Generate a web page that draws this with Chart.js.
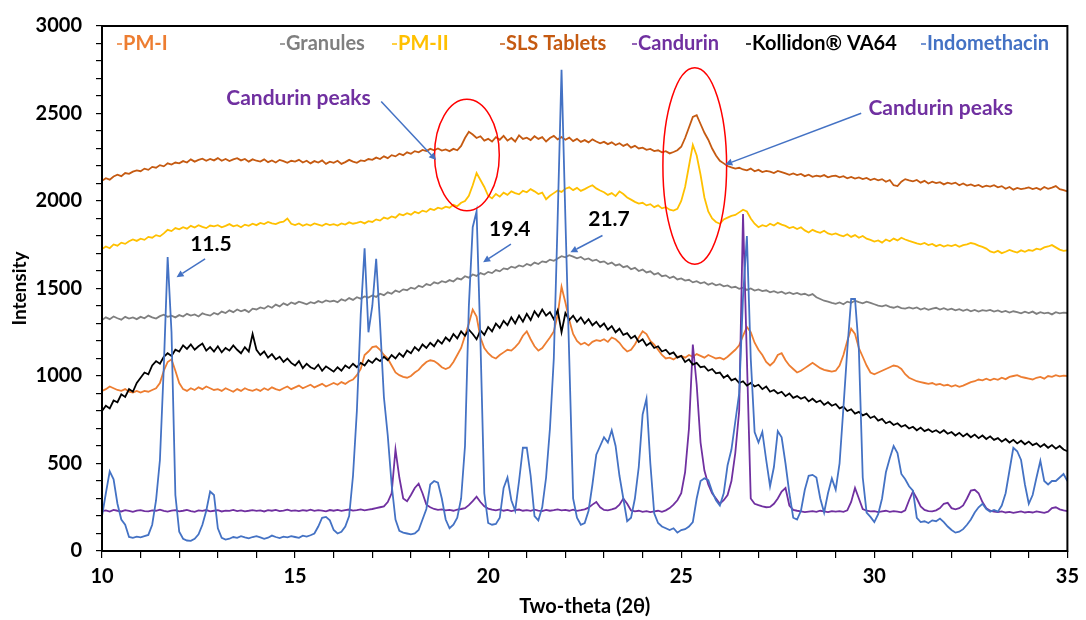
<!DOCTYPE html>
<html>
<head>
<meta charset="utf-8">
<script src="https://cdn.jsdelivr.net/npm/chart.js@4.4.1/dist/chart.umd.min.js"></script>
<style>
  html, body { margin: 0; padding: 0; background: #ffffff; }
  canvas { display: block; }
</style>
</head>
<body>
<canvas id="c" width="1086" height="620"></canvas>
<script>
// ---- Data ----
const twoTheta = [
  10.0,10.1,10.2,10.3,10.4,10.5,10.6,10.7,10.8,10.9,
  11.0,11.1,11.2,11.3,11.4,11.5,11.6,11.7,11.8,11.9,
  12.0,12.1,12.2,12.3,12.4,12.5,12.6,12.7,12.8,12.9,
  13.0,13.1,13.2,13.3,13.4,13.5,13.6,13.7,13.8,13.9,
  14.0,14.1,14.2,14.3,14.4,14.5,14.6,14.7,14.8,14.9,
  15.0,15.1,15.2,15.3,15.4,15.5,15.6,15.7,15.8,15.9,
  16.0,16.1,16.2,16.3,16.4,16.5,16.6,16.7,16.8,16.9,
  17.0,17.1,17.2,17.3,17.4,17.5,17.6,17.7,17.8,17.9,
  18.0,18.1,18.2,18.3,18.4,18.5,18.6,18.7,18.8,18.9,
  19.0,19.1,19.2,19.3,19.4,19.5,19.6,19.7,19.8,19.9,
  20.0,20.1,20.2,20.3,20.4,20.5,20.6,20.7,20.8,20.9,
  21.0,21.1,21.2,21.3,21.4,21.5,21.6,21.7,21.8,21.9,
  22.0,22.1,22.2,22.3,22.4,22.5,22.6,22.7,22.8,22.9,
  23.0,23.1,23.2,23.3,23.4,23.5,23.6,23.7,23.8,23.9,
  24.0,24.1,24.2,24.3,24.4,24.5,24.6,24.7,24.8,24.9,
  25.0,25.1,25.2,25.3,25.4,25.5,25.6,25.7,25.8,25.9,
  26.0,26.1,26.2,26.3,26.4,26.5,26.6,26.7,26.8,26.9,
  27.0,27.1,27.2,27.3,27.4,27.5,27.6,27.7,27.8,27.9,
  28.0,28.1,28.2,28.3,28.4,28.5,28.6,28.7,28.8,28.9,
  29.0,29.1,29.2,29.3,29.4,29.5,29.6,29.7,29.8,29.9,
  30.0,30.1,30.2,30.3,30.4,30.5,30.6,30.7,30.8,30.9,
  31.0,31.1,31.2,31.3,31.4,31.5,31.6,31.7,31.8,31.9,
  32.0,32.1,32.2,32.3,32.4,32.5,32.6,32.7,32.8,32.9,
  33.0,33.1,33.2,33.3,33.4,33.5,33.6,33.7,33.8,33.9,
  34.0,34.1,34.2,34.3,34.4,34.5,34.6,34.7,34.8,34.9,
  35.0
];

const pmI = [
  915,925,940,930,920,915,925,910,905,915,
  905,915,910,920,930,960,1030,1080,1095,1030,
  960,925,915,930,920,935,925,940,930,920,
  925,915,930,920,910,925,915,930,920,915,
  925,915,930,920,935,925,918,930,940,925,
  935,945,930,940,950,935,945,955,940,950,
  960,950,965,955,970,980,1005,1040,1120,1140,
  1165,1170,1150,1120,1100,1060,1020,1005,995,990,
  1000,1020,1035,1060,1080,1090,1085,1070,1050,1040,
  1050,1080,1120,1160,1230,1300,1380,1340,1220,1160,
  1130,1110,1100,1120,1135,1150,1145,1165,1190,1230,
  1255,1210,1170,1145,1160,1190,1220,1255,1350,1510,
  1420,1320,1240,1200,1180,1190,1175,1195,1205,1200,
  1210,1195,1220,1210,1190,1160,1140,1150,1180,1220,
  1255,1240,1200,1180,1150,1120,1100,1105,1095,1110,
  1115,1105,1120,1110,1125,1115,1105,1120,1110,1100,
  1105,1095,1110,1130,1150,1175,1230,1280,1250,1190,
  1150,1120,1080,1060,1080,1120,1130,1090,1060,1040,
  1020,1030,1045,1060,1075,1060,1045,1035,1030,1025,
  1030,1060,1120,1200,1270,1240,1160,1110,1060,1020,
  1010,1020,1030,1040,1050,1060,1055,1040,1010,990,
  980,970,965,960,955,960,950,955,945,950,
  940,948,938,945,955,965,970,980,975,985,
  975,985,978,990,982,995,1000,1005,995,990,
  985,980,990,995,985,1000,995,1005,998,1002,
  1000
];

const granules = [
  1320,1335,1325,1340,1330,1322,1338,1328,1335,1325,
  1338,1330,1345,1335,1328,1342,1350,1338,1345,1335,
  1348,1340,1355,1345,1352,1340,1358,1350,1345,1360,
  1352,1368,1360,1375,1365,1380,1370,1378,1365,1385,
  1380,1392,1385,1400,1390,1408,1398,1415,1405,1420,
  1412,1425,1418,1410,1422,1415,1428,1420,1432,1425,
  1430,1422,1438,1430,1445,1435,1450,1442,1455,1448,
  1460,1452,1470,1462,1478,1470,1488,1480,1495,1490,
  1505,1498,1515,1508,1525,1518,1535,1528,1542,1535,
  1548,1540,1558,1552,1570,1562,1580,1572,1588,1580,
  1595,1588,1605,1598,1615,1610,1625,1618,1632,1625,
  1640,1632,1648,1640,1655,1650,1665,1658,1672,1685,
  1678,1690,1682,1672,1680,1665,1672,1658,1665,1650,
  1655,1640,1648,1632,1638,1622,1628,1610,1618,1600,
  1608,1592,1598,1580,1588,1570,1575,1560,1568,1552,
  1558,1545,1550,1535,1542,1530,1536,1522,1530,1518,
  1525,1512,1518,1505,1510,1498,1505,1492,1500,1488,
  1495,1485,1490,1478,1485,1475,1482,1470,1478,1468,
  1475,1465,1470,1460,1468,1450,1440,1430,1425,1418,
  1412,1420,1410,1425,1418,1430,1422,1415,1425,1418,
  1410,1402,1398,1405,1395,1390,1398,1388,1385,1392,
  1385,1392,1380,1388,1378,1385,1390,1380,1388,1378,
  1385,1375,1382,1372,1380,1370,1378,1368,1376,1372,
  1378,1368,1375,1365,1372,1362,1370,1365,1358,1368,
  1360,1368,1355,1365,1358,1362,1352,1365,1358,1362,
  1360
];

const pmII = [
  1725,1740,1730,1752,1745,1762,1755,1770,1780,1772,
  1785,1778,1795,1790,1805,1798,1815,1835,1828,1845,
  1838,1850,1842,1858,1848,1862,1852,1845,1860,1855,
  1862,1850,1858,1868,1855,1862,1850,1865,1858,1870,
  1862,1875,1868,1880,1872,1868,1878,1882,1900,1870,
  1862,1872,1858,1868,1860,1872,1865,1858,1870,1862,
  1868,1860,1872,1865,1878,1870,1875,1882,1872,1885,
  1880,1895,1888,1905,1898,1912,1905,1925,1918,1930,
  1922,1938,1930,1945,1938,1955,1948,1962,1955,1968,
  1962,1978,1970,1990,2000,2030,2090,2160,2120,2080,
  2030,2015,2040,2025,2048,2035,2055,2045,2038,2058,
  2050,2068,2055,2040,2048,2010,2030,2045,2060,2052,
  2070,2078,2062,2075,2058,2068,2080,2090,2072,2060,
  2050,2035,2045,2028,2055,2040,2020,2008,1995,1985,
  1990,1975,1982,1965,1975,1958,1965,1950,1945,1955,
  2000,2080,2200,2320,2260,2150,2020,1940,1900,1880,
  1870,1895,1905,1915,1920,1935,1950,1940,1900,1870,
  1850,1862,1855,1870,1860,1875,1865,1858,1845,1852,
  1840,1850,1832,1820,1835,1825,1818,1830,1815,1808,
  1815,1805,1798,1810,1795,1805,1790,1800,1785,1778,
  1768,1775,1762,1780,1770,1785,1775,1790,1780,1772,
  1765,1758,1752,1760,1748,1755,1742,1750,1740,1748,
  1742,1750,1738,1748,1752,1760,1755,1745,1738,1728,
  1712,1705,1715,1702,1710,1720,1712,1705,1718,1710,
  1720,1715,1728,1722,1735,1740,1748,1735,1722,1715,
  1718
];

const slsTablets = [
  2115,2130,2122,2140,2150,2142,2160,2155,2168,2175,
  2170,2185,2178,2195,2190,2205,2198,2215,2208,2220,
  2215,2228,2220,2238,2225,2235,2242,2230,2240,2232,
  2245,2230,2240,2228,2238,2245,2232,2240,2225,2238,
  2230,2225,2238,2222,2232,2220,2235,2228,2218,2230,
  2225,2235,2220,2230,2215,2228,2220,2232,2212,2225,
  2218,2230,2212,2222,2235,2225,2218,2232,2228,2240,
  2235,2248,2240,2255,2245,2262,2255,2270,2262,2278,
  2270,2285,2278,2292,2285,2298,2290,2300,2288,2295,
  2285,2298,2290,2315,2360,2395,2380,2360,2370,2345,
  2355,2340,2365,2350,2372,2345,2360,2340,2375,2355,
  2362,2348,2370,2355,2365,2340,2360,2372,2352,2365,
  2350,2362,2342,2355,2338,2348,2335,2352,2340,2330,
  2338,2325,2335,2320,2330,2315,2325,2305,2315,2300,
  2305,2292,2298,2285,2290,2278,2285,2272,2280,2290,
  2310,2360,2420,2480,2490,2440,2390,2350,2300,2260,
  2230,2215,2200,2192,2185,2190,2180,2175,2185,2170,
  2178,2165,2172,2168,2160,2172,2165,2158,2150,2158,
  2148,2155,2142,2150,2138,2145,2140,2148,2135,2142,
  2145,2135,2142,2130,2138,2128,2135,2125,2132,2120,
  2128,2118,2125,2110,2120,2090,2085,2110,2125,2118,
  2112,2120,2105,2115,2100,2110,2102,2108,2095,2105,
  2098,2105,2090,2100,2088,2095,2085,2092,2080,2088,
  2082,2090,2078,2085,2070,2080,2065,2075,2068,2072,
  2078,2068,2075,2065,2080,2070,2076,2085,2068,2062,
  2055
];

const candurin = [
  228,232,225,235,230,226,233,229,224,231,
  234,228,226,232,230,236,229,225,231,233,
  227,230,235,228,224,232,229,234,227,230,
  233,226,231,229,235,228,232,227,230,234,
  229,232,226,233,230,235,228,231,236,229,
  232,228,234,230,236,229,233,231,227,234,
  230,235,229,233,237,231,234,238,232,236,
  240,245,250,255,280,330,580,420,300,285,
  320,360,385,330,265,250,240,235,238,232,
  235,230,236,240,245,262,285,310,280,255,
  242,236,232,238,230,235,228,233,237,230,
  234,229,236,231,228,235,230,233,238,232,
  235,230,236,229,233,238,248,265,280,250,
  235,232,238,245,265,300,270,232,226,230,
  224,228,222,226,230,224,232,245,265,290,
  330,450,700,1180,950,620,460,380,330,300,
  270,290,320,400,560,800,1925,1100,300,270,
  262,255,250,252,270,300,340,360,260,235,
  230,226,222,225,228,224,230,226,222,228,
  225,228,224,232,280,360,300,240,230,226,
  228,222,226,230,224,228,225,221,232,290,
  340,300,255,235,228,226,232,245,270,275,
  245,238,245,260,300,345,350,330,280,245,
  230,225,222,226,220,224,218,222,226,220,
  224,220,226,222,218,225,245,250,238,232,
  228
];

const kollidonVA64 = [
  800,830,815,860,850,895,880,925,910,960,
  990,1020,1010,1060,1085,1070,1110,1130,1115,1150,
  1140,1175,1155,1180,1150,1170,1185,1145,1165,1140,
  1170,1135,1160,1145,1175,1150,1130,1165,1140,1240,
  1150,1120,1140,1105,1125,1095,1110,1080,1100,1075,
  1060,1085,1045,1070,1050,1040,1065,1030,1055,1040,
  1025,1050,1030,1060,1045,1070,1050,1075,1060,1090,
  1075,1100,1085,1110,1090,1120,1100,1130,1110,1145,
  1130,1165,1145,1180,1160,1190,1170,1205,1185,1220,
  1200,1240,1215,1255,1230,1265,1240,1210,1260,1235,
  1280,1255,1300,1275,1315,1290,1335,1300,1345,1310,
  1355,1320,1370,1340,1380,1345,1365,1325,1375,1250,
  1360,1320,1345,1310,1335,1300,1325,1290,1310,1280,
  1300,1265,1285,1250,1270,1235,1245,1215,1230,1195,
  1210,1175,1190,1160,1170,1140,1150,1125,1135,1105,
  1115,1080,1095,1065,1075,1050,1055,1030,1040,1015,
  1020,990,1005,975,985,960,970,945,960,940,
  950,925,940,910,920,900,910,885,900,875,
  885,870,880,855,870,850,860,835,850,830,
  840,815,825,800,810,785,795,775,785,760,
  770,745,755,730,740,720,730,710,720,700,
  710,690,705,685,695,680,690,675,690,670,
  680,660,675,655,670,650,665,645,660,640,
  655,635,645,625,640,620,635,615,630,610,
  625,605,615,595,610,590,605,585,600,580,
  570
];

const indomethacin = [
  200,330,455,410,270,180,150,80,75,82,
  78,85,92,150,290,520,1050,1680,1250,320,
  110,70,60,58,70,95,150,230,340,320,
  130,75,65,70,80,75,85,78,72,80,
  85,78,70,76,88,80,74,82,78,85,
  80,75,88,82,90,100,140,190,195,175,
  120,100,110,140,200,430,800,1350,1730,1250,
  1400,1670,1300,880,660,380,180,115,105,100,
  95,100,120,180,240,380,400,390,300,180,
  130,150,190,300,600,1400,1850,1940,1200,330,
  160,150,155,190,360,420,290,230,400,590,
  590,430,200,175,250,420,700,1100,1900,2750,
  1900,1100,300,190,150,160,230,380,550,600,
  650,620,690,600,430,300,170,190,300,480,
  780,870,500,215,160,140,130,120,130,105,
  120,125,140,165,300,400,415,405,340,290,
  260,330,490,580,740,900,1450,1800,1100,680,
  620,680,520,370,480,685,650,500,330,190,
  180,230,350,430,435,420,300,220,330,415,
  350,500,820,1150,1440,1440,1150,420,220,195,
  165,210,300,450,530,600,560,440,410,370,
  345,190,165,170,160,175,170,185,165,140,
  120,105,110,125,150,180,220,250,270,240,
  225,235,225,260,330,460,590,570,520,380,
  270,320,420,515,400,380,400,400,420,440,
  400
];

const seriesNames = ['PM-I', 'Granules', 'PM-II', 'SLS Tablets', 'Candurin', 'Kollidon® VA64', 'Indomethacin'];
const seriesValues = [pmI, granules, pmII, slsTablets, candurin, kollidonVA64, indomethacin];
const seriesColors = ['#ED7D31', '#7F7F7F', '#FFC000', '#C55A11', '#7030A0', '#000000', '#4472C4'];

const xTickLabels = [10, 15, 20, 25, 30, 35];
const yTickLabels = [0, 500, 1000, 1500, 2000, 2500, 3000];

// ---- Annotations (data coordinates) ----
const annotTexts = [
  { t: 'Candurin peaks', x: 15.09, y: 2586, color: '#7030A0' },
  { t: 'Candurin peaks', x: 31.72, y: 2529, color: '#7030A0' },
  { t: '11.5', x: 12.82, y: 1754, color: '#000000' },
  { t: '19.4', x: 20.56, y: 1839, color: '#000000' },
  { t: '21.7', x: 23.13, y: 1896, color: '#000000' }
];
const annotArrows = [
  [17.23, 2569, 18.65, 2234],
  [29.66, 2501, 26.14, 2208],
  [12.67, 1669, 11.93, 1565],
  [20.59, 1754, 19.87, 1650],
  [22.96, 1803, 22.13, 1707]
];
const annotEllipses = [
  { x: 19.45, y: 2263, rx: 0.838, ry: 318 },
  { x: 25.35, y: 2200, rx: 0.825, ry: 561 }
];

const FONT = "Lato, 'Liberation Sans', sans-serif";

const overlay = {
  id: 'overlay',
  afterDatasetsDraw(chart) {
    const { ctx, chartArea: a, scales: { x, y } } = chart;
    ctx.save();
    // frame
    ctx.strokeStyle = '#000';
    ctx.lineWidth = 2;
    ctx.strokeRect(a.left, a.top, a.right - a.left, a.bottom - a.top);

    // ellipses
    ctx.strokeStyle = '#FF0000';
    ctx.lineWidth = 1.5;
    annotEllipses.forEach(e => {
      const cx = x.getPixelForValue(e.x), cy = y.getPixelForValue(e.y);
      const rx = x.getPixelForValue(e.x + e.rx) - cx;
      const ry = cy - y.getPixelForValue(e.y + e.ry);
      ctx.beginPath();
      ctx.ellipse(cx, cy, rx, ry, 0, 0, Math.PI * 2);
      ctx.stroke();
    });

    // arrows
    ctx.strokeStyle = '#4472C4';
    ctx.fillStyle = '#4472C4';
    ctx.lineWidth = 1.5;
    annotArrows.forEach(ar => {
      const x1 = x.getPixelForValue(ar[0]), y1 = y.getPixelForValue(ar[1]);
      const x2 = x.getPixelForValue(ar[2]), y2 = y.getPixelForValue(ar[3]);
      const ang = Math.atan2(y2 - y1, x2 - x1);
      const hl = 7, hw = 3.5;
      const bx = x2 - hl * Math.cos(ang), by = y2 - hl * Math.sin(ang);
      ctx.beginPath();
      ctx.moveTo(x1, y1);
      ctx.lineTo(bx, by);
      ctx.stroke();
      ctx.beginPath();
      ctx.moveTo(x2, y2);
      ctx.lineTo(bx + hw * Math.sin(ang), by - hw * Math.cos(ang));
      ctx.lineTo(bx - hw * Math.sin(ang), by + hw * Math.cos(ang));
      ctx.closePath();
      ctx.fill();
    });

    // annotation texts
    ctx.font = 'bold 21px ' + FONT;
    ctx.textAlign = 'center';
    ctx.textBaseline = 'middle';
    annotTexts.forEach(tx => {
      ctx.fillStyle = tx.color;
      ctx.fillText(tx.t, x.getPixelForValue(tx.x), y.getPixelForValue(tx.y));
    });

    // legend inside plot
    const legendX = [117, 280, 392, 500, 632, 746, 921];
    const ly = 44;
    ctx.font = 'bold 20px ' + FONT;
    ctx.textAlign = 'left';
    chart.data.datasets.forEach((ds, i) => {
      const lx = legendX[i];
      ctx.strokeStyle = ds.borderColor;
      ctx.lineWidth = 1.5;
      ctx.beginPath();
      ctx.moveTo(lx, ly);
      ctx.lineTo(lx + 5, ly);
      ctx.stroke();
      ctx.fillStyle = ds.borderColor;
      ctx.fillText(ds.label, lx + 6, ly);
    });
    ctx.restore();
  }
};

const datasets = seriesNames.map((name, i) => ({
  label: name,
  data: seriesValues[i],
  borderColor: seriesColors[i],
  backgroundColor: seriesColors[i],
  borderWidth: 1.8,
  pointRadius: 0,
  tension: 0,
  fill: false,
  order: seriesNames.length - i
}));

new Chart(document.getElementById('c'), {
  type: 'line',
  data: { labels: twoTheta, datasets },
  options: {
    responsive: false,
    animation: false,
    devicePixelRatio: 1,
    layout: { padding: { top: 22, right: 14, left: 0, bottom: 0 } },
    plugins: { legend: { display: false }, tooltip: { enabled: false } },
    scales: {
      x: {
        type: 'linear',
        min: 10, max: 35,
        afterFit(scale) { scale.height = 69; },
        ticks: {
          stepSize: 1,
          autoSkip: false,
          maxRotation: 0,
          padding: 7,
          color: '#000',
          font: { family: FONT, size: 20, weight: 'bold' },
          callback: v => (xTickLabels.includes(v) ? String(v) : '')
        },
        grid: { drawOnChartArea: false, drawTicks: true, tickLength: 7, color: '#000', lineWidth: 1.2 },
        border: { display: false },
        title: {
          display: true,
          text: 'Two-theta (2θ)',
          color: '#000',
          font: { family: FONT, size: 20, weight: 'bold' },
          padding: { top: 0, bottom: 1 }
        }
      },
      y: {
        min: 0, max: 3000,
        afterFit(scale) { scale.width = 102; },
        ticks: {
          stepSize: 100,
          autoSkip: false,
          padding: 14,
          color: '#000',
          font: { family: FONT, size: 20, weight: 'bold' },
          callback: v => (yTickLabels.includes(v) ? String(v) : '')
        },
        grid: { drawOnChartArea: false, drawTicks: true, tickLength: 6, color: '#000', lineWidth: 1.2 },
        border: { display: false },
        title: {
          display: true,
          text: 'Intensity',
          color: '#000',
          font: { family: FONT, size: 19, weight: 'bold' },
          padding: { top: 8, bottom: 0 }
        }
      }
    }
  },
  plugins: [overlay]
});
</script>
</body>
</html>
